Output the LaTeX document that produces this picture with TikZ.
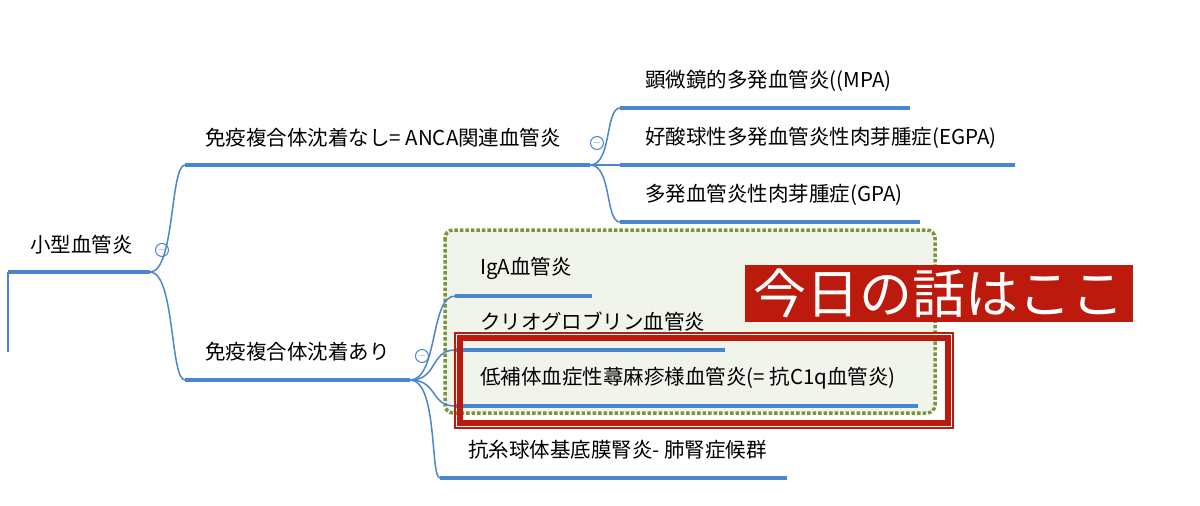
\documentclass[tikz,border=0pt]{standalone}
\usepackage{fontspec}
\setmainfont{Noto Sans CJK JP}
\definecolor{mapblue}{HTML}{4A86D0}
\definecolor{boxgreen}{HTML}{7A963A}
\definecolor{boxfill}{HTML}{F1F4EA}
\definecolor{talkred}{HTML}{BC1A0C}
\begin{document}
\begin{tikzpicture}[x=1pt,y=-1pt,
  topic/.style={anchor=west,font=\fontsize{20.5}{24}\selectfont,inner sep=0pt},
  under/.style={mapblue,line width=3.5pt},
  branch/.style={mapblue,line width=1.5pt},
  fold/.style={draw=mapblue,circle,minimum size=13pt,inner sep=0pt,font=\fontsize{11}{11}\selectfont,text=mapblue,line width=1pt}]
\useasboundingbox (0,0) rectangle (1200,506);

% focus frame
\draw[boxgreen,line width=3.5pt,dotted,fill=boxfill,rounded corners=8pt] (445,230) rectangle (935,413);

% root
\node[topic] (root) at (30,245) {小型血管炎};
\draw[under] (8,272) coordinate (r0) -- (150,272) coordinate (r1);
\draw[branch] (r0) -- (8,352);
\node[fold] (f0) at (162,250) {$-$};

% level 1
\node[topic] (anca) at (205,138) {免疫複合体沈着なし= ANCA関連血管炎};
\draw[under] (185,165) coordinate (a0) -- (590,165) coordinate (a1);
\node[topic] (ic) at (205,352) {免疫複合体沈着あり};
\draw[under] (185,380) coordinate (b0) -- (410,380) coordinate (b1);
\draw[branch] (r1) .. controls (175,272) and (170,165) .. (a0);
\draw[branch] (r1) .. controls (175,272) and (170,380) .. (b0);
\node[fold] (f1) at (597,143) {$-$};
\node[fold] (f2) at (422,356) {$-$};

% ANCA children
\foreach \y/\xe/\t/\n in {108/910/顕微鏡的多発血管炎((MPA)/mpa,
    165/1015/好酸球性多発血管炎性肉芽腫症(EGPA)/egpa,
    222/920/多発血管炎性肉芽腫症(GPA)/gpa}{
  \node[topic] (\n) at (645,\y-27) {\t};
  \draw[under] (620,\y) coordinate (\n0) -- (\xe,\y);
  \draw[branch] (a1) .. controls (612,165) and (605,\y) .. (\n0);
}

% immune-complex children
\foreach \y/\xs/\xt/\xe/\t/\n in {296/455/480/592/IgA血管炎/iga,
    350/455/480/725/クリオグロブリン血管炎/cryo,
    406/455/480/918/低補体血症性蕁麻疹様血管炎(= 抗C1q血管炎)/huv,
    478/440/468/787/抗糸球体基底膜腎炎- 肺腎症候群/gbm}{
  \node[topic] (\n) at (\xt,\y-28) {\t};
  \draw[under] (\xs,\y) coordinate (\n0) -- (\xe,\y);
  \draw[branch] (b1) .. controls (438,380) and (430,\y) .. (\n0);
}

% highlight
\draw[talkred,line width=6pt] (460,338) rectangle (948,423);
\draw[talkred,line width=2pt] (455,333) rectangle (953,428);
\node[fill=talkred,text=white,anchor=north west,minimum width=388pt,minimum height=57pt,
  font=\fontsize{53}{55}\selectfont,inner sep=0pt] (talk) at (745,265) {今日の話はここ};
\end{tikzpicture}
\end{document}
